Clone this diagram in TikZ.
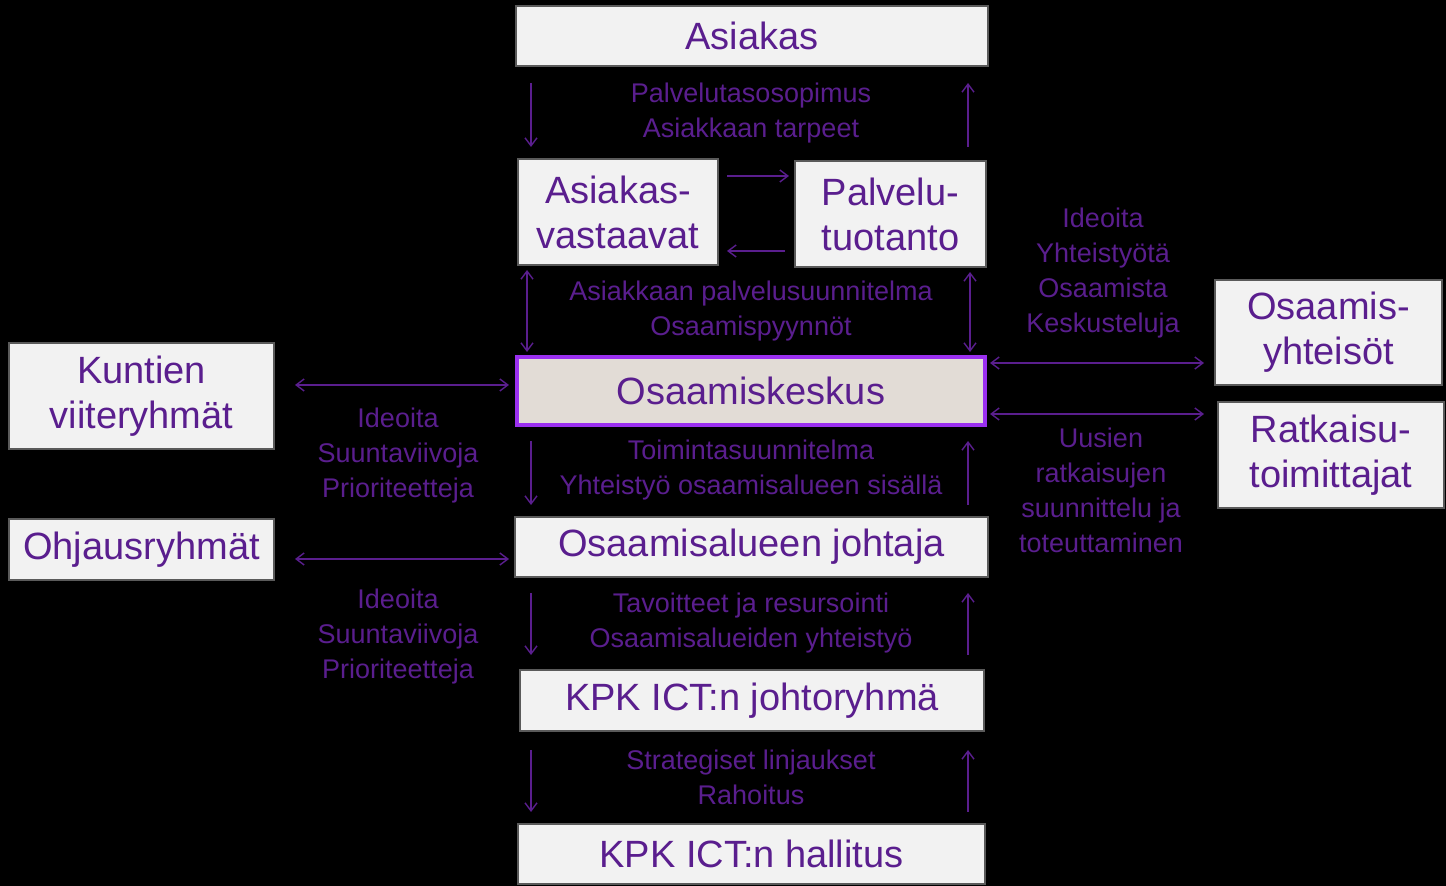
\documentclass[tikz,border=0pt]{standalone}
\usepackage{fontspec}
\setmainfont{Liberation Sans}
\usetikzlibrary{arrows.meta}
\definecolor{tx}{HTML}{5A1E8E}
\definecolor{bx}{HTML}{F2F2F2}
\definecolor{bd}{HTML}{5A5A5A}
\definecolor{hub}{HTML}{E2DCD6}
\definecolor{hubd}{HTML}{9B30F0}
\begin{document}
\begin{tikzpicture}[x=0.5pt,y=-0.5pt,
 box/.style={draw=bd,fill=bx,line width=1pt,text=tx,font=\fontsize{19}{22.5}\selectfont,align=center,inner sep=0},
 lab/.style={text=tx,font=\fontsize{13.5}{17.5}\selectfont,align=center},
 ar/.style={-{Straight Barb[length=4pt,width=6pt]},draw=tx,line width=0.7pt},
 dar/.style={{Straight Barb[length=4pt,width=6pt]}-{Straight Barb[length=4pt,width=6pt]},draw=tx,line width=0.7pt}]
\fill[black] (0,0) rectangle (1446,886);
\newcommand\bx[6]{\node[box,minimum width=(#4-#2)*0.5pt,minimum height=(#5-#3)*0.5pt] (#1) at ({(#2+#4)/2},{(#3+#5)/2}) {#6};}
\bx{asi}{516}{6}{988}{66}{Asiakas}
\bx{av}{518}{159}{718}{265}{Asiakas-\\vastaavat}
\bx{pt}{795}{161}{986}{267}{Palvelu-\\tuotanto}
\node[box,fill=hub,draw=hubd,line width=2pt,minimum width=234pt,minimum height=34pt] (ok) at (751,391) {Osaamiskeskus};
\bx{ku}{9}{343}{274}{449}{Kuntien\\viiteryhmät}
\bx{oh}{9}{519}{274}{580}{Ohjausryhmät}
\bx{oj}{515}{517}{988}{577}{Osaamisalueen johtaja}
\bx{jr}{520}{670}{984}{731}{KPK ICT:n johtoryhmä}
\bx{ha}{518}{824}{985}{884}{KPK ICT:n hallitus}
\bx{oy}{1215}{280}{1442}{385}{Osaamis-\\yhteisöt}
\bx{rt}{1218}{402}{1444}{508}{Ratkaisu-\\toimittajat}
\node[lab] (l1) at (751,113) {Palvelutasosopimus\\Asiakkaan tarpeet};
\node[lab] (l2) at (751,311) {Asiakkaan palvelusuunnitelma\\Osaamispyynnöt};
\node[lab] (l3) at (751,470) {Toimintasuunnitelma\\Yhteistyö osaamisalueen sisällä};
\node[lab] (l4) at (751,623) {Tavoitteet ja resursointi\\Osaamisalueiden yhteistyö};
\node[lab] (l5) at (751,777) {Strategiset linjaukset\\Rahoitus};
\node[lab] (l6) at (398,456) {Ideoita\\Suuntaviivoja\\Prioriteetteja};
\node[lab] (l7) at (398,637) {Ideoita\\Suuntaviivoja\\Prioriteetteja};
\node[lab] (l8) at (1103,273) {Ideoita\\Yhteistyötä\\Osaamista\\Keskusteluja};
\node[lab] (l9) at (1101,490) {Uusien\\ratkaisujen\\suunnittelu ja\\toteuttaminen};
\foreach \y/\z in {83/147,441/505,593/655,750/812}{
 \coordinate (a) at (531,\y); \coordinate (b) at (531,\z); \draw[ar] (a)--(b);
 \coordinate (c) at (968,\z); \coordinate (d) at (968,\y); \draw[ar] (c)--(d);}
\coordinate (h1) at (727,176); \coordinate (h2) at (789,176); \draw[ar] (h1)--(h2);
\coordinate (h3) at (785,251); \coordinate (h4) at (727,251); \draw[ar] (h3)--(h4);
\coordinate (v1) at (527,270); \coordinate (v2) at (527,352); \draw[dar] (v1)--(v2);
\coordinate (v3) at (970,272); \coordinate (v4) at (970,352); \draw[dar] (v3)--(v4);
\coordinate (k1) at (295,385); \coordinate (k2) at (509,385); \draw[dar] (k1)--(k2);
\coordinate (k3) at (295,559); \coordinate (k4) at (509,559); \draw[dar] (k3)--(k4);
\coordinate (r1) at (990,363); \coordinate (r2) at (1204,363); \draw[dar] (r1)--(r2);
\coordinate (r3) at (990,414); \coordinate (r4) at (1204,414); \draw[dar] (r3)--(r4);
\end{tikzpicture}
\end{document}
